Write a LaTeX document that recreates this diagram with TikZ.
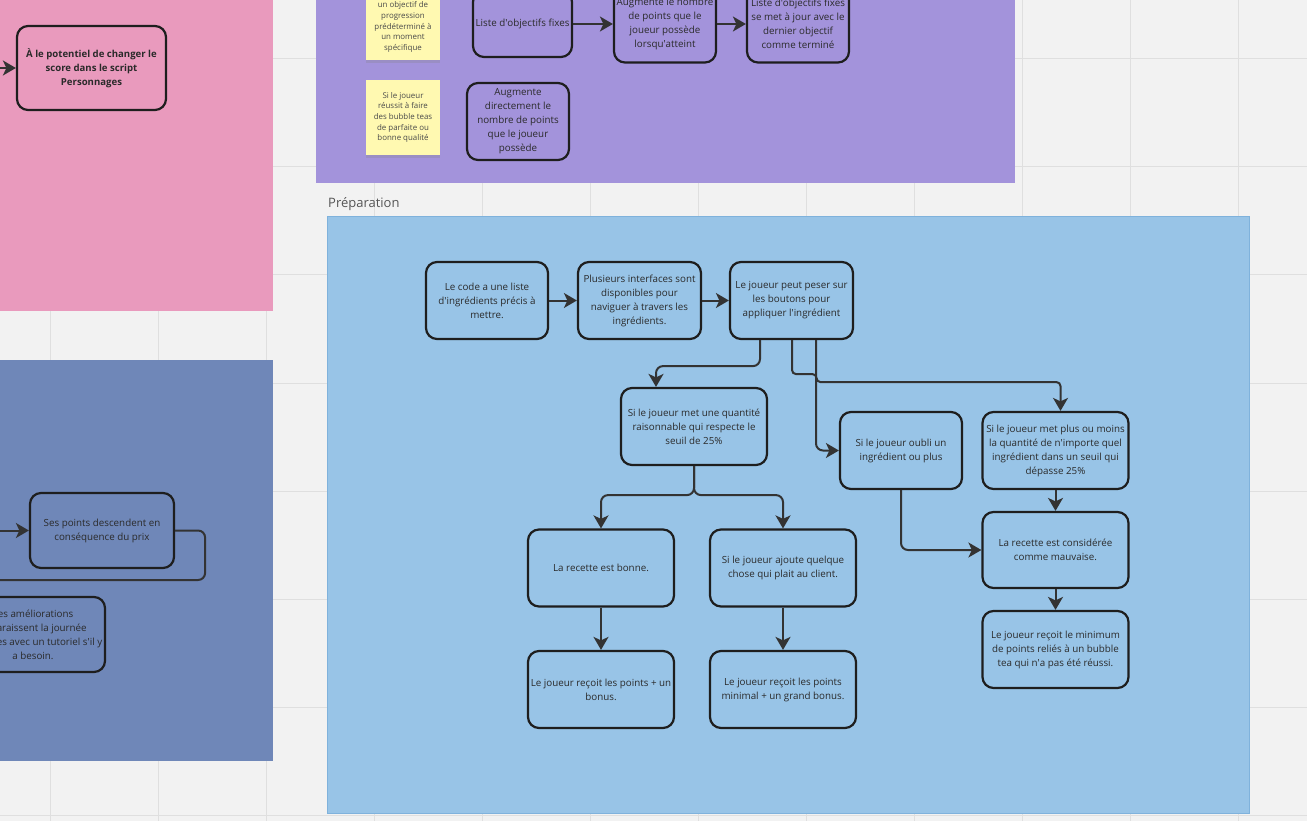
\documentclass[tikz,border=0pt]{standalone}
\usepackage{fontspec}
\setmainfont{Open Sans}
\usetikzlibrary{arrows.meta,shadows}
\newcommand{\mqapo}{\textquotesingle}
\definecolor{canvasbg}{HTML}{F2F2F2}
\definecolor{gridc}{HTML}{DFDFDF}
\definecolor{pinkbg}{HTML}{E99ABD}
\definecolor{violetbg}{HTML}{A393DB}
\definecolor{slatebg}{HTML}{6F87B8}
\definecolor{skybg}{HTML}{98C4E7}
\definecolor{skyedge}{HTML}{7FB2DC}
\definecolor{boxedge}{HTML}{1E1E1E}
\definecolor{linec}{HTML}{333333}
\definecolor{txt}{HTML}{2A2A2A}
\definecolor{stickyc}{HTML}{FFF9B1}
\definecolor{stickytxt}{HTML}{4A4A4A}
\definecolor{labelc}{HTML}{555555}
\begin{document}
\begin{tikzpicture}[x=1pt,y=-1pt,
  box/.style={draw=boxedge, line width=2.2pt, rounded corners=11pt, align=center, text=txt, font=\fontsize{9.8}{14}\selectfont, inner sep=1pt},
  boldbox/.style={box, font=\fontsize{9.6}{14}\selectfont\bfseries},
  sticky/.style={fill=stickyc, align=center, text=stickytxt, font=\fontsize{7.9}{10.6}\selectfont, inner sep=1pt, drop shadow={shadow xshift=0pt, shadow yshift=-3pt, opacity=0.25}},
  conn/.style={draw=linec, line width=2pt, rounded corners=7pt, -{Stealth[length=13pt,width=15pt,inset=3.5pt]}},
  loopline/.style={draw=linec, line width=2pt, rounded corners=7pt},
  gridline/.style={draw=gridc, line width=1pt}
]
\useasboundingbox (0,0) rectangle (1307,821);
\clip (0,0) rectangle (1307,821);
\fill[canvasbg] (0,0) rectangle (1307,821);
\foreach \gx in {50,158,...,1300} \draw[gridline] (\gx,0) -- (\gx,821);
\foreach \gy in {59,167,...,821} \draw[gridline] (0,\gy) -- (1307,\gy);

% regions
\fill[pinkbg] (-2,-2) rectangle (273,311);
\fill[violetbg] (316,-2) rectangle (1015,183);
\fill[slatebg] (-2,360) rectangle (273,761);
\filldraw[fill=skybg, draw=skyedge, line width=1pt] (327,217) rectangle (1249,813);
\node[anchor=base west, text=labelc, font=\fontsize{13}{15}\selectfont, inner sep=0pt] (prep) at (328,208) {Préparation};

% pink
\node[boldbox, minimum width=149, minimum height=84] (pk) at (91.5,68) {À le potentiel de changer le\\score dans le script\\Personnages};
\coordinate (pkin) at (-5,68);
\draw[conn] (pkin) -- (pk.west);

% violet
\node[sticky, minimum width=74, minimum height=66] (s1) at (403,27) {un objectif de\\progression\\prédéterminé à\\un moment\\spécifique};
\node[sticky, minimum width=74, minimum height=75] (s2) at (403,117.5) {Si le joueur\\réussit à faire\\des bubble teas\\de parfaite ou\\bonne qualité};
\node[box, minimum width=99, minimum height=66] (p1) at (522.5,24) {Liste d\mqapo objectifs fixes};
\node[box, minimum width=102, minimum height=77] (p2) at (665,24) {Augmente le nombre\\de points que le\\joueur possède\\lorsqu\mqapo atteint};
\node[box, minimum width=102, minimum height=77] (p3) at (798,24) {Liste d\mqapo objectifs fixes\\se met à jour avec le\\dernier objectif\\comme terminé};
\node[box, minimum width=102, minimum height=77] (p4) at (518,121.5) {Augmente\\directement le\\nombre de points\\que le joueur\\possède};
\draw[conn] (p1.east) -- (p2.west);
\draw[conn] (p2.east) -- (p3.west);

% slate
\node[box, minimum width=144, minimum height=75] (sp) at (102,530.5) {Ses points descendent en\\conséquence du prix};
\coordinate (spin) at (-5,530.5);
\draw[conn] (spin) -- (sp.west);
\coordinate (spout) at (-5,580);
\draw[loopline] (sp.east) -- ++(30,0) |- (spout);
\node[box, minimum width=144, minimum height=75] (am) at (33,634.5) {Les améliorations\\apparaissent la journée\\suivantes avec un tutoriel s\mqapo il y\\a besoin.};

% preparation
\node[box, minimum width=122, minimum height=77] (a) at (487,300.5) {Le code a une liste\\d\mqapo ingrédients précis à\\mettre.};
\node[box, minimum width=123, minimum height=77] (b) at (639.5,300.5) {Plusieurs interfaces sont\\disponibles pour\\naviguer à travers les\\ingrédients.};
\node[box, minimum width=123, minimum height=77] (c) at (791.5,300.5) {Le joueur peut peser sur\\les boutons pour\\appliquer l\mqapo ingrédient};
\node[box, minimum width=146, minimum height=77] (d) at (694,426.5) {Si le joueur met une quantité\\raisonnable qui respecte le\\seuil de 25\%};
\node[box, minimum width=122, minimum height=77] (e) at (901,450.5) {Si le joueur oubli un\\ingrédient ou plus};
\node[box, minimum width=146, minimum height=77] (f) at (1055.5,450.5) {Si le joueur met plus ou moins\\la quantité de n\mqapo importe quel\\ingrédient dans un seuil qui\\dépasse 25\%};
\node[box, minimum width=146, minimum height=77] (g) at (601,568) {La recette est bonne.};
\node[box, minimum width=146, minimum height=77] (h) at (783,568) {Si le joueur ajoute quelque\\chose qui plait au client.};
\node[box, minimum width=146, minimum height=77] (i) at (601,689.5) {Le joueur reçoit les points + un\\bonus.};
\node[box, minimum width=146, minimum height=77] (j) at (783,689.5) {Le joueur reçoit les points\\minimal + un grand bonus.};
\node[box, minimum width=146, minimum height=76] (k) at (1055.5,550) {La recette est considérée\\comme mauvaise.};
\node[box, minimum width=146, minimum height=77] (l) at (1055.5,649.5) {Le joueur reçoit le minimum\\de points reliés à un bubble\\tea qui n\mqapo a pas été réussi.};

\draw[conn] (a.east) -- (b.west);
\draw[conn] (b.east) -- (c.west);
\draw[conn] ([xshift=-31.5pt]c.south) -- ++(0,26) -| ([xshift=-38pt]d.north);
\draw[conn, rounded corners=4pt] ([xshift=0.5pt]c.south) -- ++(0,34) -- ++(24.5,0) -- ++(0,8) -| ([xshift=5pt]f.north);
\draw[conn] ([xshift=24.5pt]c.south) |- (e.west);
\draw[conn] (d.south) -- ++(0,29) -| (g.north);
\draw[conn] (d.south) -- ++(0,29) -| (h.north);
\draw[conn] (g.south) -- (i.north);
\draw[conn] (h.south) -- (j.north);
\draw[conn] (e.south) |- (k.west);
\draw[conn] (f.south) -- (k.north);
\draw[conn] (k.south) -- (l.north);
\end{tikzpicture}
\end{document}
